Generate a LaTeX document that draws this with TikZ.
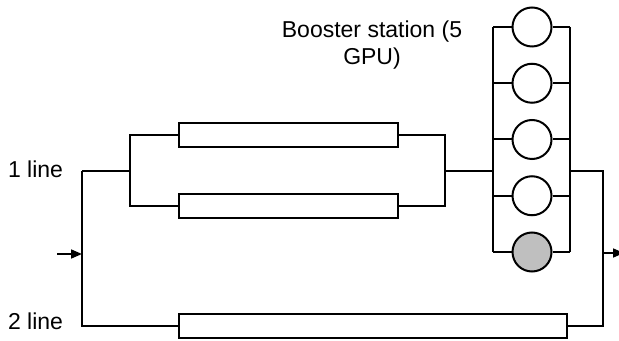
\documentclass[tikz,border=0pt]{standalone}
\usepackage{fontspec}
\setmainfont{Liberation Sans}
\usetikzlibrary{positioning,arrows.meta}
\begin{document}
\begin{tikzpicture}[x=.5pt, y=-.5pt, >={Triangle[length=5.5pt,width=4.5pt]}, line width=1pt,
  pipe/.style={draw, rectangle, minimum width=109.5pt, minimum height=12pt, inner sep=0},
  pump/.style={draw, circle, minimum size=19.5pt, inner sep=0},
  lbl/.style={font=\fontsize{11.5}{13.3}\selectfont, inner sep=0}]
\useasboundingbox (0,0) rectangle (619,341);
% pipes
\node[pipe] (r1) at (288.5,135) {};
\node[pipe] (r2) at (288.5,206) {};
\node[pipe, minimum width=194pt] (r3) at (373,326) {};
% booster station
\coordinate (bl) at (493,171);
\coordinate (br) at (570,171);
\foreach \i/\y/\f in {1/27/white,2/83.25/white,3/139.5/white,4/195.75/white,5/252/gray!50}
{
    \node[pump, fill=\f] (p\i) at (532,\y) {};
    \draw (bl |- p\i) -- (p\i) -- (br |- p\i);
}
\draw (bl |- p1) -- (bl |- p5);
\draw (br |- p1) -- (br |- p5);
% line 1
\coordinate (in1) at (82,171);
\coordinate (sp) at (130,171);
\coordinate (jn) at (445,171);
\coordinate (out1) at (603,171);
\draw (in1) -- (sp);
\draw (r1) -- (sp |- r1) -- (sp |- r2) -- (r2);
\draw (r1) -- (jn |- r1) -- (jn |- r2) -- (r2);
\draw (jn) -- (bl);
\draw (br) -- (out1) -- (out1 |- r3) -- (r3);
% line 2
\draw (in1) -- (in1 |- r3) -- (r3);
% flow
\coordinate (a1) at (57,254);
\coordinate (a2) at (624,253);
\draw[->, line width=.8pt] (a1) -- (in1 |- a1);
\draw[->, line width=.8pt] (out1 |- a2) -- (a2);
% labels
\node[lbl, anchor=east] (l1) at (64,169) {1 line};
\node[lbl, anchor=east] (l2) at (64,321) {2 line};
\node[lbl, align=center] (bs) at (372,45) {Booster station (5\\GPU)};
\end{tikzpicture}
\end{document}
